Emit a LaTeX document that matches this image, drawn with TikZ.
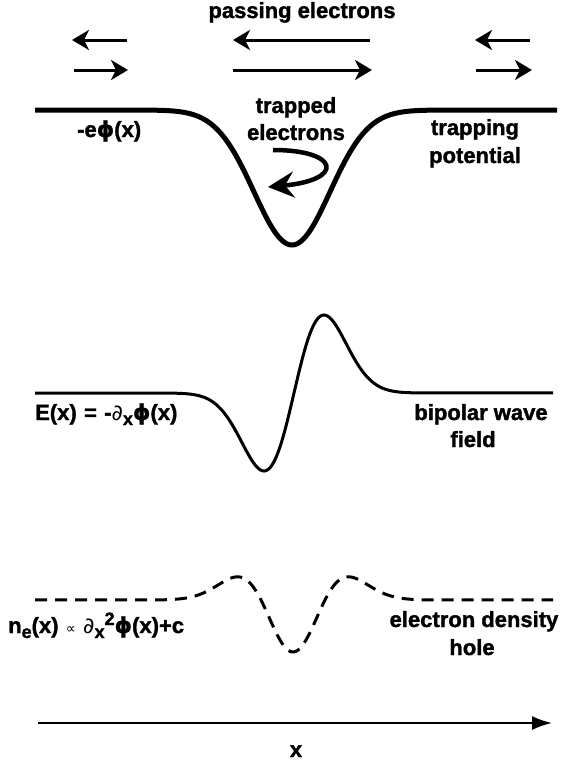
\documentclass[tikz,border=0pt]{standalone}
\usepackage{fontspec}
\setmainfont{Liberation Sans}[BoldFeatures={FakeBold=1.5}]
\newfontfamily\symf{DejaVu Sans}[BoldFeatures={FakeBold=1}]
\usetikzlibrary{arrows.meta}
\newcommand{\mysub}[1]{\raisebox{-5pt}{\fontsize{18}{18}\selectfont #1}}
\newcommand{\mysup}[1]{\raisebox{8pt}{\fontsize{18}{18}\selectfont #1}}
\begin{document}
\begin{tikzpicture}[x=1pt,y=-1pt,
  lbl/.style={font=\fontsize{22}{26}\selectfont\bfseries, inner sep=0pt},
  passarrow/.style={line width=3pt, -{Stealth[length=17pt,width=20pt,inset=5pt]}},
  traparrow/.style={line width=4.5pt, -{Stealth[length=26pt,width=26pt,inset=9pt]}},
  pot/.style={line width=5pt},
  field/.style={line width=3pt},
  dens/.style={line width=3pt, dash pattern=on 12pt off 8pt},
  axis/.style={line width=2pt, -{Latex[length=20pt,width=14pt]}}]
\useasboundingbox (0,0) rectangle (565,763);

% passing electron arrows
\coordinate (l1a) at (127,40); \coordinate (l1b) at (72,40);
\coordinate (l2a) at (74,70);  \coordinate (l2b) at (128,70);
\coordinate (m1a) at (370,40); \coordinate (m1b) at (233,40);
\coordinate (m2a) at (233,70); \coordinate (m2b) at (372,70);
\coordinate (r1a) at (530,40); \coordinate (r1b) at (475,40);
\coordinate (r2a) at (476,70); \coordinate (r2b) at (532,70);
\draw[passarrow] (l1a) -- (l1b);
\draw[passarrow] (l2a) -- (l2b);
\draw[passarrow] (m1a) -- (m1b);
\draw[passarrow] (m2a) -- (m2b);
\draw[passarrow] (r1a) -- (r1b);
\draw[passarrow] (r2a) -- (r2b);

\node[lbl, anchor=base] (pe) at (302,18) {passing electrons};

% trapping potential
\draw[pot] plot[domain=35:557, samples=261, smooth] (\x, {110+135*exp(-0.5*((\x-292)/38)^2)});
\node[lbl, anchor=base west] (phi) at (77,137) {-e{\symf\bfseries ϕ}(x)};
\node[lbl, anchor=base] (te1) at (296,113) {trapped};
\node[lbl, anchor=base] (te2) at (296,140) {electrons};
\node[lbl, anchor=base] (tp1) at (475,135) {trapping};
\node[lbl, anchor=base] (tp2) at (475,163) {potential};

% trapped electron arrow
\coordinate (ta) at (273,150);
\coordinate (tb) at (268,187);
\draw[traparrow] (ta) .. controls (340,150) and (345,180) .. (tb);

% bipolar field
\draw[field] plot[domain=35:553, samples=261, smooth] (\x, {393-128.6*((\x-294)/30)*exp(-0.5*((\x-294)/30)^2)});
\node[lbl, anchor=base west] (ef) at (35,420) {E(x)\,\,=\,\,-{\symf\mdseries ∂}\mysub{x}{\symf\bfseries ϕ}(x)};
\node[lbl, anchor=base] (bw1) at (481,420) {bipolar wave};
\node[lbl, anchor=base] (bw2) at (473,447) {field};

% density hole
\draw[dens] plot[domain=35:553, samples=261, smooth] (\x, {600+52*(1-((\x-293)/32)^2)*exp(-0.5*((\x-293)/32)^2)});
\node[lbl, anchor=base west] (ne) at (8,633) {n\mysub{e}(x)\,\,{\symf\mdseries\fontsize{14}{14}\selectfont ∝}\,\,{\symf\mdseries ∂}\mysub{x}\mysup{2}{\symf\bfseries ϕ}(x)+c};
\node[lbl, anchor=base] (ed1) at (474,627) {electron density};
\node[lbl, anchor=base] (ed2) at (472,655) {hole};

% x axis
\coordinate (xa) at (38,723);
\coordinate (xb) at (552,723);
\draw[axis] (xa) -- (xb);
\node[lbl, anchor=base] (xl) at (296,757) {x};
\end{tikzpicture}
\end{document}
